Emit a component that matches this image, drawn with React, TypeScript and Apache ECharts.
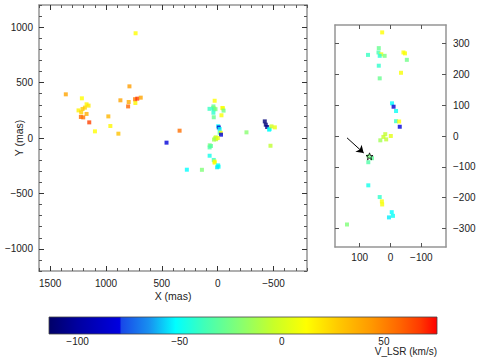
import React, { useEffect, useRef } from 'react';
import * as echarts from 'echarts';

// Maser spots: X offset (mas), Y offset (mas), V_LSR (km/s)
const spotX = [
  735, 1360, 790, 1216, 871, 797, 802, 737, 740, 720, 689,
  1174, 1156, 1189, 1210, 1246, 1222, 1174, 1225, 1204, 1150, 1099,
  979, 961, 889, 341, 458, 276, 141,
  -422, -431, -443, -461, -465, -482, -512, -473, -258,
  27, 73, 38, 39, 30, 35, 19, -42, -47, -53, 38, -34, 35,
  -5, -10, -18, -18, -28, -30, 17, 23, 14, -1, 33,
  71, 60, 72, 72, 35, 28, 27, -4, -8, 5,
];
const spotY = [
  945, 394, 466, 358, 340, 325, 285, 316, 350, 355, 364,
  304, 292, 274, 262, 249, 231, 217, 190, 186, 141, 60,
  195, 108, 39, 66, -42, -286, -287,
  150, 120, 99, 75, 82, 105, 96, -70, 51,
  336, 263, 285, 271, 265, 260, 260, 271, 268, 247, 228, 205, 187,
  106, 95, 81, 48, 47, 30, 6, -3, -11, 0, -14,
  -66, -72, -85, -160, -198, -212, -222, -247, -259, -264,
];
const spotV = [
  12, 40, 42, 12, 40, 38, 58, 14, 52, 68, 40,
  14, 18, 24, 28, 16, 26, 36, 56, 54, 66, 12,
  34, 14, 30, 55, -82, -52, -22,
  -110, -110, -105, -52, -50, -2, 6, -6, -20,
  12, -40, -28, -36, 6, -44, -24, 12, 10, -26, -42, 10, -28,
  -52, -85, -50, -40, 12, -82, -6, -4, -6, 4, -14,
  -24, -30, -34, -48, -42, 10, 10, -52, -50, -54,
];

const refStar = [68, -66];
const arrowFrom = [141, -6];
const arrowTo = [87, -55];

const leftXLabels = [-500, 0, 500, 1000, 1500];
const leftYLabels = [-1000, -500, 0, 500, 1000];
const rightXLabels = [-100, 0, 100];
const rightYLabels = [-300, -200, -100, 0, 100, 200, 300];
const barLabels = [-100, -50, 0, 50];
const barTicks = [-110, -100, -90, -80, -70, -60, -50, -40, -30, -20, -10, 0, 10, 20, 30, 40, 50, 60, 70];
const vRange = [-114, 76];

const colorStops: [number, string][] = [
  [-114, '#000068'],
  [-100, '#0000a0'],
  [-79.5, '#0000e0'],
  [-78.5, '#1848e8'],
  [-65, '#1890f0'],
  [-52, '#00ffff'],
  [-38, '#40ffb8'],
  [-20, '#88ff70'],
  [-4, '#c8ff28'],
  [12, '#ffff00'],
  [28, '#ffc800'],
  [44, '#ff9800'],
  [58, '#ff6400'],
  [68, '#ff3800'],
  [76, '#ff0000'],
];

function hexToRgb(h: string) {
  return [parseInt(h.slice(1, 3), 16), parseInt(h.slice(3, 5), 16), parseInt(h.slice(5, 7), 16)];
}
function velColor(v: number) {
  if (v <= colorStops[0][0]) return colorStops[0][1];
  for (let i = 1; i < colorStops.length; i++) {
    const [v1, c1] = colorStops[i];
    const [v0, c0] = colorStops[i - 1];
    if (v <= v1) {
      const t = (v - v0) / (v1 - v0);
      const a = hexToRgb(c0), b = hexToRgb(c1);
      const r = a.map((x, k) => Math.round(x + (b[k] - x) * t));
      return `rgb(${r[0]},${r[1]},${r[2]})`;
    }
  }
  return colorStops[colorStops.length - 1][1];
}

const FONT = 'Liberation Sans, Arial, Helvetica, sans-serif';
const FRAME = '#959595';
const TICK = '#333';
const fmt = (v: number) => String(v).replace('-', '\u2212');

const labelStyle = { fontSize: 10, color: '#222', fontFamily: FONT };

export default function App() {
  const ref = useRef<HTMLDivElement>(null);
  useEffect(() => {
    if (!ref.current) return;
    const chart = echarts.init(ref.current, undefined, { renderer: 'svg' });
    const spots = spotX.map((x, i) => [x, spotY[i], spotV[i]]);
    const [vmin, vmax] = vRange;
    const gradient = new echarts.graphic.LinearGradient(
      0, 0, 1, 0,
      colorStops.map(([v, c]) => ({ offset: (v - vmin) / (vmax - vmin), color: c }))
    );

    const minorX = (pos: string, labels: boolean) => ({
      gridIndex: 0, type: 'value', min: -800, max: 1600, interval: 100, inverse: true, position: pos,
      axisLine: { show: true, onZero: false, lineStyle: { color: FRAME, width: 1.5 } },
      axisTick: { show: true, inside: true, length: 3, lineStyle: { color: '#555', width: 1 } },
      axisLabel: labels
        ? { show: true, customValues: leftXLabels, formatter: fmt, margin: 7, ...labelStyle }
        : { show: false },
      splitLine: { show: false },
      name: labels ? 'X (mas)' : '',
      nameLocation: 'middle', nameGap: 19, nameMoveOverlap: false,
      nameTextStyle: { ...labelStyle, fontSize: 10.5 },
    });
    const majorX = (pos: string) => ({
      gridIndex: 0, type: 'value', min: -800, max: 1600, inverse: true, position: pos,
      axisLine: { show: false, onZero: false },
      axisTick: { show: true, inside: true, length: 5, customValues: leftXLabels, lineStyle: { color: TICK, width: 1 } },
      axisLabel: { show: false }, splitLine: { show: false },
    });
    const minorY = (pos: string, labels: boolean) => ({
      gridIndex: 0, type: 'value', min: -1200, max: 1200, interval: 100, position: pos,
      axisLine: { show: true, onZero: false, lineStyle: { color: FRAME, width: 1.5 } },
      axisTick: { show: true, inside: true, length: 3, lineStyle: { color: '#555', width: 1 } },
      axisLabel: labels
        ? { show: true, customValues: leftYLabels, formatter: fmt, margin: 6, ...labelStyle }
        : { show: false },
      splitLine: { show: false },
      name: labels ? 'Y (mas)' : '',
      nameLocation: 'middle', nameGap: 15, nameRotate: 90, nameMoveOverlap: false,
      nameTextStyle: { ...labelStyle, fontSize: 10.5 },
    });
    const majorY = (pos: string) => ({
      gridIndex: 0, type: 'value', min: -1200, max: 1200, position: pos,
      axisLine: { show: false, onZero: false },
      axisTick: { show: true, inside: true, length: 5, customValues: leftYLabels, lineStyle: { color: TICK, width: 1 } },
      axisLabel: { show: false }, splitLine: { show: false },
    });
    const rightX = (pos: string, labels: boolean) => ({
      gridIndex: 1, type: 'value', min: -180, max: 180, inverse: true, position: pos,
      axisLine: { show: true, onZero: false, lineStyle: { color: FRAME, width: 1.5 } },
      axisTick: { show: true, inside: true, length: 4, customValues: rightXLabels, lineStyle: { color: '#555', width: 1 } },
      axisLabel: labels
        ? { show: true, customValues: rightXLabels, formatter: fmt, margin: 5, ...labelStyle }
        : { show: false },
      splitLine: { show: false },
    });
    const rightY = (pos: string, labels: boolean) => ({
      gridIndex: 1, type: 'value', min: -360, max: 360, position: pos,
      axisLine: { show: true, onZero: false, lineStyle: { color: FRAME, width: 1.5 } },
      axisTick: { show: true, inside: true, length: 4, customValues: rightYLabels, lineStyle: { color: '#555', width: 1 } },
      axisLabel: labels
        ? { show: true, customValues: rightYLabels, formatter: fmt, margin: 7, ...labelStyle }
        : { show: false },
      splitLine: { show: false },
    });

    const option: any = {
      animation: false,
      backgroundColor: '#fff',
      grid: [
        { left: 39, top: 5, width: 268, height: 266 },
        { left: 335, top: 25, width: 111, height: 222 },
        { left: 49, top: 317, width: 388, height: 17 },
      ],
      xAxis: [
        minorX('bottom', true), majorX('bottom'), minorX('top', false), majorX('top'),
        rightX('bottom', true), rightX('top', false),
        {
          gridIndex: 2, type: 'value', min: vmin, max: vmax, position: 'bottom',
          axisLine: { show: false, onZero: false },
          axisTick: { show: true, inside: true, length: 3, customValues: barTicks, lineStyle: { color: '#222', width: 1 } },
          axisLabel: { show: true, customValues: barLabels, formatter: fmt, margin: 2, ...labelStyle },
          splitLine: { show: false },
        },
      ],
      yAxis: [
        minorY('left', true), majorY('left'), minorY('right', false), majorY('right'),
        rightY('right', true), rightY('left', false),
        { gridIndex: 2, type: 'value', min: 0, max: 1, show: false },
      ],
      graphic: [
        {
          type: 'text', right: 486 - 437, top: 346,
          style: { text: 'V_LSR (km/s)', fill: '#222', font: `10px ${FONT}`, textAlign: 'right' },
        },
      ],
      series: [
        {
          type: 'scatter', xAxisIndex: 0, yAxisIndex: 0, data: spots,
          symbol: 'rect', symbolSize: 4, clip: true,
          itemStyle: { color: (p: any) => velColor(p.data[2]) },
        },
        {
          type: 'scatter', xAxisIndex: 4, yAxisIndex: 4, data: spots,
          symbol: 'rect', symbolSize: 4, clip: true,
          itemStyle: { color: (p: any) => velColor(p.data[2]) },
        },
        {
          type: 'scatter', xAxisIndex: 4, yAxisIndex: 4, data: [refStar], z: 5,
          symbol: 'path://M0,-10 L2.35,-3.24 L9.51,-3.09 L3.8,1.24 L5.88,8.09 L0,4 L-5.88,8.09 L-3.8,1.24 L-9.51,-3.09 L-2.35,-3.24 Z',
          symbolSize: 7,
          itemStyle: { color: 'rgba(0,0,0,0)', borderColor: '#000', borderWidth: 1 },
          markLine: {
            silent: true, animation: false,
            symbol: ['none', 'arrow'], symbolSize: 7,
            lineStyle: { color: '#000', width: 1, type: 'solid' },
            label: { show: false },
            data: [[{ coord: arrowFrom }, { coord: arrowTo }]],
          },
        },
        {
          type: 'custom', xAxisIndex: 6, yAxisIndex: 6, data: [[vmin, vmax]],
          renderItem: (params: any, api: any) => {
            const p0 = api.coord([api.value(0), 0]);
            const p1 = api.coord([api.value(1), 1]);
            return {
              type: 'rect',
              shape: { x: p0[0], y: p1[1], width: p1[0] - p0[0], height: p0[1] - p1[1] },
              style: { fill: gradient, stroke: '#444', lineWidth: 0.8 },
            };
          },
        },
      ],
    };
    chart.setOption(option);
    return () => chart.dispose();
  }, []);
  return <div ref={ref} style={{ position: 'fixed', left: 0, top: 0, width: 486, height: 358, background: '#fff' }} />;
}
